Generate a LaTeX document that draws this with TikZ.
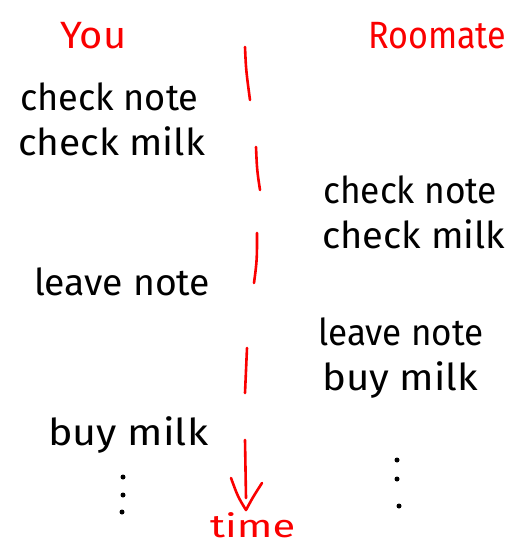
\documentclass[tikz,border=0pt]{standalone}
\usepackage{fontspec}
\usepackage{graphicx}
\setmainfont{Fira Sans}
\definecolor{ink}{RGB}{0,0,0}
\definecolor{pen}{RGB}{250,0,0}
% stretch a word to a given width, keeping its height
\newcommand\fitw[2]{\resizebox{#1}{\height}{#2}}
\begin{document}
\begin{tikzpicture}[x=1pt,y=-1pt,
  step text/.style={anchor=base west,inner sep=0pt,text=ink,
    font=\fontsize{37}{40}\selectfont},
  head text/.style={anchor=base west,inner sep=0pt,text=pen,
    font=\fontsize{38}{44}\selectfont},
  dash seg/.style={draw=pen,line width=2.6pt,line cap=round,line join=round},
  dot mark/.style={circle,fill=ink,inner sep=0pt,minimum size=5pt}]
\useasboundingbox (0,0) rectangle (510,546);

% column headings
\node[head text] (you) at (60,48) {\fitw{66pt}{You}};
\node[head text] (mate) at (368,48) {\fitw{138pt}{Roomate}};

% your steps
\node[step text] (y1) at (20,110) {\fitw{178pt}{check note}};
\node[step text] (y2) at (18,155) {\fitw{187pt}{check milk}};
\node[step text] (y3) at (34,295) {\fitw{176pt}{leave note}};
\node[step text] (y4) at (48,445) {\fitw{160pt}{buy milk}};

% roommate's steps
\node[step text] (r1) at (323,203) {\fitw{174pt}{check note}};
\node[step text] (r2) at (322,248) {\fitw{183pt}{check milk}};
\node[step text] (r3) at (318,345) {\fitw{165pt}{leave note}};
\node[step text] (r4) at (322,390) {\fitw{156pt}{buy milk}};

% continuation dots
\node[dot mark] (ld1) at (123,477) {};
\node[dot mark] (ld2) at (123,495) {};
\node[dot mark] (ld3) at (122,512) {};
\node[dot mark] (rd1) at (397,460) {};
\node[dot mark] (rd2) at (397,479) {};
\node[dot mark] (rd3) at (399,506) {};

% time axis, drawn as hand-made dashes
\coordinate (t1a) at (245,47);  \coordinate (t1b) at (250,100);
\coordinate (t2a) at (256,147); \coordinate (t2b) at (260,190);
\coordinate (t3a) at (257,233); \coordinate (t3b) at (254,283);
\coordinate (t4a) at (247,348); \coordinate (t4b) at (245,393);
\coordinate (t5a) at (245,440); \coordinate (t5b) at (246,498);
\coordinate (tipL) at (231,478); \coordinate (tip) at (246,510); \coordinate (tipR) at (262,483);
\path[dash seg] (t1a) .. controls (246,70) .. (t1b);
\path[dash seg] (t2a) .. controls (257,170) .. (t2b);
\path[dash seg] (t3a) .. controls (257,260) .. (t3b);
\path[dash seg] (t4a) .. controls (246,370) .. (t4b);
\path[dash seg] (t5a) -- (t5b);
\path[dash seg] (tipL) .. controls (238,497) .. (tip) .. controls (253,497) .. (tipR);

\node[head text,font=\fontsize{32}{36}\selectfont] (time) at (210,537) {\fitw{85pt}{time}};
\end{tikzpicture}
\end{document}
